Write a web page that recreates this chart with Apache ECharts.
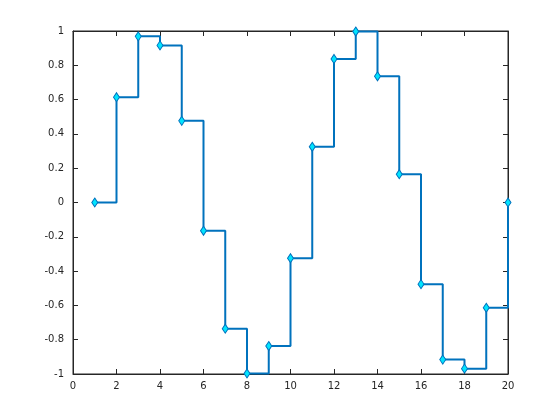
<!DOCTYPE html>
<html><head><meta charset="utf-8">
<script src="https://cdn.jsdelivr.net/npm/echarts@6/dist/echarts.min.js"></script>
<style>html,body{margin:0;padding:0;background:#fff}#c{width:560px;height:420px}</style>
</head><body><div id="c"></div>
<script>
var xValues = [1,2,3,4,5,6,7,8,9,10,11,12,13,14,15,16,17,18,19,20];
var yValues = [0,0.614,0.969,0.916,0.476,-0.165,-0.736,-0.997,-0.837,-0.325,0.325,0.837,0.997,0.736,0.165,-0.476,-0.916,-0.969,-0.614,0];
var data = xValues.map(function(x,i){return [x,yValues[i]];});
var chart = echarts.init(document.getElementById('c'));
function ax(extra, showLabel, margin){
  return Object.assign({
    type:'value',
    axisLine:{show:true,onZero:false,lineStyle:{color:'#262626',width:1}},
    axisTick:{show:true,inside:true,length:5,lineStyle:{color:'#262626'}},
    axisLabel:{show:showLabel,color:'#262626',fontSize:10,fontFamily:'DejaVu Sans',margin:margin},
    splitLine:{show:false}
  }, extra);
}
var yFmt = function(v){var r=Math.round(v*10)/10;return r===0?'0':String(r);};
var yb = ax({min:-1,max:1,interval:0.2}, true, 9); yb.axisLabel.formatter = yFmt;
chart.setOption({
  animation:false,
  grid:{left:73,right:52,top:31,bottom:46,show:true,borderColor:'#262626',borderWidth:1},
  xAxis:[ax({min:0,max:20,interval:2,position:'bottom'}, true, 7),
         ax({min:0,max:20,interval:2,position:'top'}, false, 7)],
  yAxis:[yb, ax({min:-1,max:1,interval:0.2,position:'right'}, false, 9)],
  series:[{
    type:'line',step:'end',data:data,
    lineStyle:{color:'#0072bd',width:2},
    symbol:'diamond',symbolSize:[6,9],
    itemStyle:{color:'#00e5ff',borderColor:'#0072bd',borderWidth:1},
    z:3
  }]
});
</script></body></html>
